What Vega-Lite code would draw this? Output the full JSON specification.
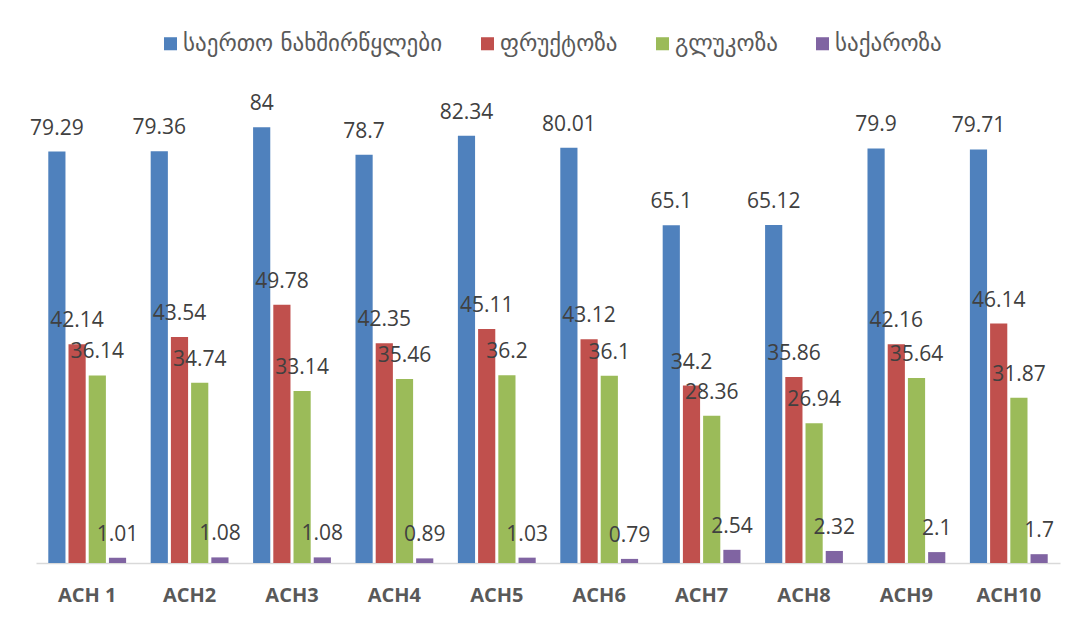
{
  "$schema": "https://vega.github.io/schema/vega-lite/v6.json",
  "autosize": {"type": "none"},
  "width": 1024,
  "height": 467,
  "padding": {"left": 36, "top": 96, "right": 18, "bottom": 60},
  "background": "white",
  "config": {
    "view": {"stroke": null},
    "font": "Open Sans, DejaVu Sans, sans-serif"
  },
  "data": {
    "values": [
      {"sample": "ACH 1", "series": "საერთო ნახშირწყლები", "value": 79.29},
      {"sample": "ACH 1", "series": "ფრუქტოზა", "value": 42.14},
      {"sample": "ACH 1", "series": "გლუკოზა", "value": 36.14},
      {"sample": "ACH 1", "series": "საქაროზა", "value": 1.01},
      {"sample": "ACH2", "series": "საერთო ნახშირწყლები", "value": 79.36},
      {"sample": "ACH2", "series": "ფრუქტოზა", "value": 43.54},
      {"sample": "ACH2", "series": "გლუკოზა", "value": 34.74},
      {"sample": "ACH2", "series": "საქაროზა", "value": 1.08},
      {"sample": "ACH3", "series": "საერთო ნახშირწყლები", "value": 84},
      {"sample": "ACH3", "series": "ფრუქტოზა", "value": 49.78},
      {"sample": "ACH3", "series": "გლუკოზა", "value": 33.14},
      {"sample": "ACH3", "series": "საქაროზა", "value": 1.08},
      {"sample": "ACH4", "series": "საერთო ნახშირწყლები", "value": 78.7},
      {"sample": "ACH4", "series": "ფრუქტოზა", "value": 42.35},
      {"sample": "ACH4", "series": "გლუკოზა", "value": 35.46},
      {"sample": "ACH4", "series": "საქაროზა", "value": 0.89},
      {"sample": "ACH5", "series": "საერთო ნახშირწყლები", "value": 82.34},
      {"sample": "ACH5", "series": "ფრუქტოზა", "value": 45.11},
      {"sample": "ACH5", "series": "გლუკოზა", "value": 36.2},
      {"sample": "ACH5", "series": "საქაროზა", "value": 1.03},
      {"sample": "ACH6", "series": "საერთო ნახშირწყლები", "value": 80.01},
      {"sample": "ACH6", "series": "ფრუქტოზა", "value": 43.12},
      {"sample": "ACH6", "series": "გლუკოზა", "value": 36.1},
      {"sample": "ACH6", "series": "საქაროზა", "value": 0.79},
      {"sample": "ACH7", "series": "საერთო ნახშირწყლები", "value": 65.1},
      {"sample": "ACH7", "series": "ფრუქტოზა", "value": 34.2},
      {"sample": "ACH7", "series": "გლუკოზა", "value": 28.36},
      {"sample": "ACH7", "series": "საქაროზა", "value": 2.54},
      {"sample": "ACH8", "series": "საერთო ნახშირწყლები", "value": 65.12},
      {"sample": "ACH8", "series": "ფრუქტოზა", "value": 35.86},
      {"sample": "ACH8", "series": "გლუკოზა", "value": 26.94},
      {"sample": "ACH8", "series": "საქაროზა", "value": 2.32},
      {"sample": "ACH9", "series": "საერთო ნახშირწყლები", "value": 79.9},
      {"sample": "ACH9", "series": "ფრუქტოზა", "value": 42.16},
      {"sample": "ACH9", "series": "გლუკოზა", "value": 35.64},
      {"sample": "ACH9", "series": "საქაროზა", "value": 2.1},
      {"sample": "ACH10", "series": "საერთო ნახშირწყლები", "value": 79.71},
      {"sample": "ACH10", "series": "ფრუქტოზა", "value": 46.14},
      {"sample": "ACH10", "series": "გლუკოზა", "value": 31.87},
      {"sample": "ACH10", "series": "საქაროზა", "value": 1.7}
    ]
  },
  "encoding": {
    "x": {
      "field": "sample",
      "type": "nominal",
      "sort": null,
      "scale": {"paddingInner": 0.24, "paddingOuter": 0.12},
      "axis": {
        "title": null,
        "labelAngle": 0,
        "ticks": false,
        "domainColor": "#d9d9d9",
        "domainWidth": 1.5,
        "labelFontSize": 20,
        "labelFontWeight": "bold",
        "labelColor": "#595959",
        "labelPadding": 22
      }
    },
    "xOffset": {
      "field": "series",
      "type": "nominal",
      "sort": ["საერთო ნახშირწყლები", "ფრუქტოზა", "გლუკოზა", "საქაროზა"],
      "scale": {"paddingInner": 0.15, "paddingOuter": 0}
    },
    "y": {
      "field": "value",
      "type": "quantitative",
      "scale": {"domain": [0, 90], "nice": false},
      "axis": null
    }
  },
  "layer": [
    {
      "mark": {"type": "bar"},
      "encoding": {
        "color": {
          "field": "series",
          "type": "nominal",
          "sort": ["საერთო ნახშირწყლები", "ფრუქტოზა", "გლუკოზა", "საქაროზა"],
          "scale": {
            "domain": ["საერთო ნახშირწყლები", "ფრუქტოზა", "გლუკოზა", "საქაროზა"],
            "range": ["#4f81bd", "#c0504d", "#9bbb59", "#8064a2"]
          },
          "legend": {
            "title": null,
            "orient": "none",
            "direction": "horizontal",
            "legendX": 123,
            "legendY": -64,
            "symbolType": "square",
            "symbolSize": 170,
            "symbolStrokeWidth": 0,
            "symbolOpacity": 1,
            "labelFontSize": 23,
            "labelColor": "#595959",
            "labelFont": "DejaVu Sans",
            "labelLimit": 400,
            "columnPadding": 33,
            "labelOffset": 1
          }
        }
      }
    },
    {
      "mark": {
        "type": "text",
        "baseline": "alphabetic",
        "align": "center",
        "dy": -17,
        "fontSize": 21,
        "color": "#404040"
      },
      "encoding": {
        "text": {"field": "value", "type": "nominal"}
      }
    }
  ]
}
